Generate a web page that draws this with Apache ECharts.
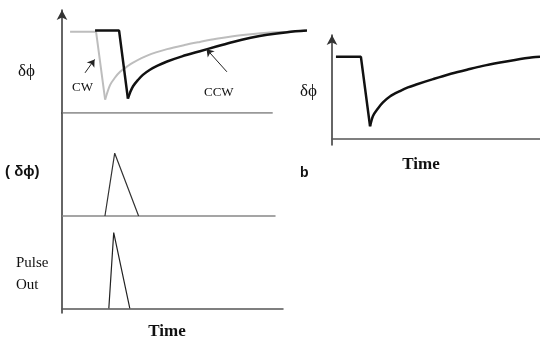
<!DOCTYPE html>
<html><head><meta charset="utf-8">
<script src="https://cdn.jsdelivr.net/npm/echarts@6/dist/echarts.min.js"></script>
<style>html,body{margin:0;padding:0;background:#fff}#c{width:540px;height:337px}</style>
</head><body><div id="c"></div>
<script>
// Panel a (top): phase response, CW (gray) and CCW (black)
const cwTime  = [3.3, 13.9, 17.6, 19.6, 21.5, 23.7, 26.5, 29, 35, 42.9, 50, 56.3, 63, 69.8, 77, 83.7, 92, 99.2];
const cwValue = [0.79, 0.79, 0.13, 0.27, 0.34, 0.40, 0.45, 0.49, 0.56, 0.62, 0.66, 0.69, 0.72, 0.745, 0.765, 0.78, 0.79, 0.80];
const ccwTime  = [13.5, 23.3, 26.9, 27.8, 29, 31, 33, 35.9, 39, 42.9, 49, 56.3, 63, 69.8, 77, 83.7, 92, 100];
const ccwValue = [0.80, 0.80, 0.14, 0.20, 0.26, 0.32, 0.37, 0.42, 0.46, 0.50, 0.55, 0.60, 0.645, 0.69, 0.73, 0.76, 0.785, 0.80];
const topBaseEnd = 86;
// Panel a (middle): f(δϕ)
const fTime  = [17.6, 21.6, 31.4];
const fValue = [0, 0.61, 0];
// Panel a (bottom): pulse out
const pulseTime  = [19.2, 21.2, 27.8];
const pulseValue = [0, 0.82, 0];
// Panel b: single response
const bTime  = [1.9, 13.9, 18.3, 19.7, 22, 24.5, 28, 32.7, 36.5, 40.9, 48.6, 56, 64.9, 72, 80.8, 88, 96.6, 100];
const bValue = [0.79, 0.79, 0.12, 0.22, 0.29, 0.35, 0.41, 0.46, 0.495, 0.525, 0.575, 0.62, 0.665, 0.70, 0.735, 0.76, 0.785, 0.79];

const pairs = (a, b) => a.map((t, i) => [t, b[i]]);
const axisCol = '#555';
const serif = 'Liberation Serif';
const sans = 'Liberation Sans';

function xAx(grid, max, col, show) {
  return { type: 'value', gridIndex: grid, min: 0, max: max,
    axisLine: { show: show !== false, onZero: true, lineStyle: { color: col || axisCol, width: 1.5 } },
    axisTick: { show: false }, axisLabel: { show: false }, splitLine: { show: false } };
}
function yAx(grid, min, max, arrow) {
  return { type: 'value', gridIndex: grid, min: min, max: max,
    axisLine: { show: true, onZero: false, lineStyle: { color: '#333', width: 1.5 },
      symbol: arrow ? ['none', 'arrow'] : ['none', 'none'], symbolSize: [8, 10] },
    axisTick: { show: false }, axisLabel: { show: false }, splitLine: { show: false } };
}
function txt(text, x, y, font, align) {
  return { type: 'text', style: { text: text, x: x, y: y, font: font, fill: '#111',
    textAlign: align || 'left', textVerticalAlign: 'middle' } };
}
// straight part (flat + drop) and smooth recovery part
function curve(xi, t, v, style, extra) {
  const p = pairs(t, v);
  return [
    { type: 'line', xAxisIndex: xi, yAxisIndex: xi, data: p.slice(0, 3), showSymbol: false, lineStyle: style },
    Object.assign({ type: 'line', xAxisIndex: xi, yAxisIndex: xi, data: p.slice(2), showSymbol: false, smooth: 0.3, lineStyle: style }, extra || {})
  ];
}

const chart = echarts.init(document.getElementById('c'), null, { renderer: 'canvas' });
chart.setOption({
  animation: false,
  backgroundColor: '#fff',
  grid: [
    { left: 62, top: 10, width: 245, height: 103 },
    { left: 62, top: 113, width: 213, height: 103 },
    { left: 62, top: 216, width: 221, height: 97 },
    { left: 332, top: 35, width: 208, height: 110 }
  ],
  xAxis: [xAx(0, 100, '#777', false), xAx(1, 87.3, '#888'), xAx(2, 90.6), xAx(3, 100)],
  yAxis: [yAx(0, 0, 1, true), yAx(1, 0, 1, false), yAx(2, -0.05, 1, false), yAx(3, -0.06, 1, true)],
  series: [
    { type: 'line', xAxisIndex: 0, yAxisIndex: 0, data: [[0, 0], [topBaseEnd, 0]], showSymbol: false,
      lineStyle: { color: '#777', width: 1.5 } },
    ...curve(0, cwTime, cwValue, { color: '#bdbdbd', width: 2 }),
    ...curve(0, ccwTime, ccwValue, { color: '#111', width: 2.5 }, {
      markLine: { silent: true, symbol: ['none', 'arrow'], symbolSize: 7, label: { show: false },
        lineStyle: { color: '#222', width: 1, type: 'solid' },
        data: [
          [{ coord: [9.4, 0.39] }, { coord: [13.3, 0.52] }],
          [{ coord: [67.3, 0.40] }, { coord: [59.0, 0.62] }]
        ] } }),
    { type: 'line', xAxisIndex: 1, yAxisIndex: 1, data: pairs(fTime, fValue), showSymbol: false,
      lineStyle: { color: '#333', width: 1.2 } },
    { type: 'line', xAxisIndex: 2, yAxisIndex: 2, data: pairs(pulseTime, pulseValue), showSymbol: false,
      lineStyle: { color: '#222', width: 1.2 } },
    ...curve(3, bTime, bValue, { color: '#111', width: 2.5 })
  ],
  graphic: [
    txt('δϕ', 18, 72, '17px "' + serif + '"'),
    txt('CW', 72, 88, '13px "' + serif + '"'),
    txt('CCW', 204, 93, '13px "' + serif + '"'),
    txt('( δϕ)', 5, 172, 'bold 15px "' + sans + '"'),
    txt('b', 300, 173, 'bold 14px "' + sans + '"'),
    txt('Pulse', 16, 263, '15px "' + serif + '"'),
    txt('Out', 16, 285, '15px "' + serif + '"'),
    txt('Time', 167, 332, 'bold 17px "' + serif + '"', 'center'),
    txt('δϕ', 300, 92, '17px "' + serif + '"'),
    txt('Time', 421, 165, 'bold 17px "' + serif + '"', 'center')
  ]
});
</script>
</body></html>
